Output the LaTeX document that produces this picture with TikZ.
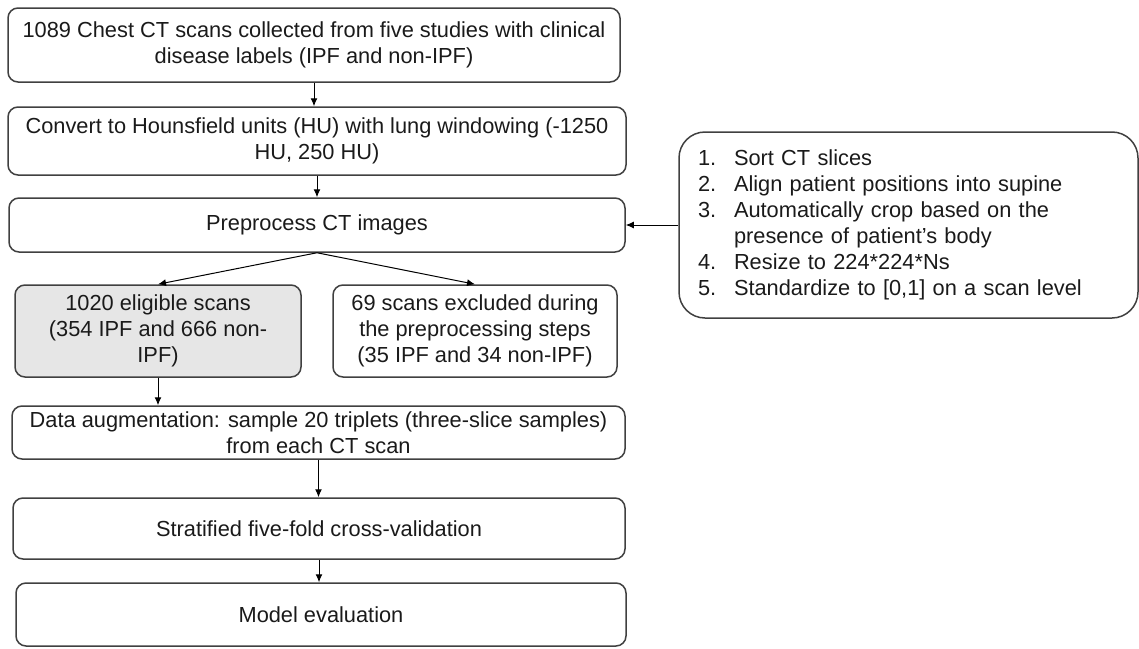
\documentclass[tikz,border=0pt]{standalone}
\usepackage{fontspec}
\setmainfont{Liberation Sans}
\usetikzlibrary{arrows.meta}
\definecolor{edgegray}{HTML}{404040}
\definecolor{fillgray}{HTML}{E6E6E6}
\definecolor{textgray}{HTML}{1A1A1A}
\begin{document}
\begin{tikzpicture}[x=0.5pt,y=-0.5pt,
    font=\fontsize{10.9}{13}\selectfont,text=textgray,
    box/.style={draw=edgegray,line width=0.75pt,rounded corners=5pt,align=center,inner sep=0pt},
    greybox/.style={box,fill=fillgray},
    listbox/.style={draw=edgegray,line width=0.75pt,rounded corners=13pt,align=left,
      text width=210.5pt,inner xsep=9.5pt,inner ysep=0pt},
    arr/.style={draw=black,line width=0.5pt,-{Latex[length=4pt,width=3.5pt]}}]
  \useasboundingbox (0,0) rectangle (1139,648);
  % Main column
  \node[box,minimum width=306pt,minimum height=37pt] (src) at (314,45)
    {1089 Chest CT scans collected from five studies with clinical\\disease labels (IPF and non-IPF)};
  \node[box,minimum width=309pt,minimum height=34pt] (hu) at (317,141)
    {Convert to Hounsfield units (HU) with lung windowing (-1250\\HU, 250 HU)};
  \node[box,minimum width=308pt,minimum height=27pt] (prep) at (317,225)
    {Preprocess CT images};
  % Split
  \node[greybox,minimum width=143pt,minimum height=46pt] (elig) at (158,331)
    {1020 eligible scans\\(354 IPF and 666 non-\\IPF)};
  \node[box,minimum width=142pt,minimum height=46pt] (excl) at (475,331)
    {69 scans excluded during\\the preprocessing steps\\(35 IPF and 34 non-IPF)};
  \node[box,minimum width=306.5pt,minimum height=26.5pt] (aug) at (318.5,432.5)
    {Data augmentation: sample 20 triplets (three-slice samples)\\from each CT scan};
  \node[box,minimum width=306pt,minimum height=30.5pt] (cv) at (319,528.5)
    {Stratified five-fold cross-validation};
  \node[box,minimum width=305pt,minimum height=31.5pt] (evalbox) at (321,614.5)
    {Model evaluation};
  % Preprocessing steps
  \node[listbox,minimum height=93pt] (steps) at (908.5,225)
    {\makebox[18pt][l]{1.}Sort CT slices\\
     \makebox[18pt][l]{2.}Align patient positions into supine\\
     \makebox[18pt][l]{3.}Automatically crop based on the\\
     \hspace*{18pt}presence of patient’s body\\
     \makebox[18pt][l]{4.}Resize to 224*224*Ns\\
     \makebox[18pt][l]{5.}Standardize to [0,1] on a scan level};
  % Arrows
  \draw[arr] (src.south) -- (src.south |- hu.north);
  \draw[arr] (hu.south) -- (hu.south |- prep.north);
  \draw[arr] (prep.south) -- (elig.north);
  \draw[arr] (prep.south) -- (excl.north);
  \draw[arr] (elig.south) -- (elig.south |- aug.north);
  \draw[arr] (aug.south) -- (aug.south |- cv.north);
  \draw[arr] (cv.south) -- (cv.south |- evalbox.north);
  \draw[arr] (steps.west) -- (prep.east);
\end{tikzpicture}
\end{document}
